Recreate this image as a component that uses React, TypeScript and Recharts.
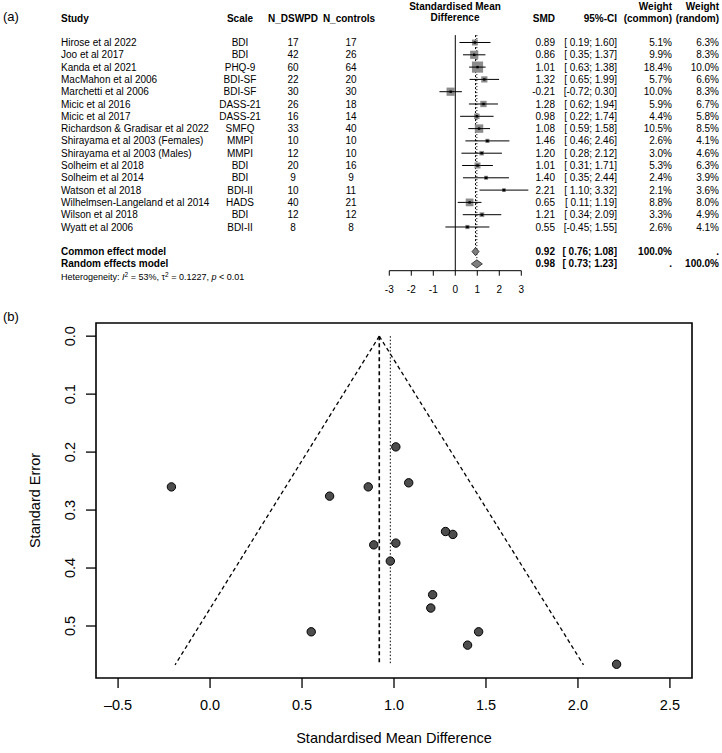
import { ScatterChart, Scatter, XAxis, YAxis, ErrorBar, ReferenceLine, ReferenceArea } from 'recharts';

const studies = [
  'Hirose et al 2022', 'Joo et al 2017', 'Kanda et al 2021', 'MacMahon et al 2006',
  'Marchetti et al 2006', 'Micic et al 2016', 'Micic et al 2017', 'Richardson & Gradisar et al 2022',
  'Shirayama et al 2003 (Females)', 'Shirayama et al 2003 (Males)', 'Solheim et al 2018', 'Solheim et al 2014',
  'Watson et al 2018', 'Wilhelmsen-Langeland et al 2014', 'Wilson et al 2018', 'Wyatt et al 2006',
];
const scales = ['BDI', 'BDI', 'PHQ-9', 'BDI-SF', 'BDI-SF', 'DASS-21', 'DASS-21', 'SMFQ', 'MMPI', 'MMPI', 'BDI', 'BDI', 'BDI-II', 'HADS', 'BDI', 'BDI-II'];
const nDswpd = [17, 42, 60, 22, 30, 26, 16, 33, 10, 12, 20, 9, 10, 40, 12, 8];
const nControls = [17, 26, 64, 20, 30, 18, 14, 40, 10, 10, 16, 9, 11, 21, 12, 8];
const smd = [0.89, 0.86, 1.01, 1.32, -0.21, 1.28, 0.98, 1.08, 1.46, 1.2, 1.01, 1.4, 2.21, 0.65, 1.21, 0.55];
const ciLower = [0.19, 0.35, 0.63, 0.65, -0.72, 0.62, 0.22, 0.59, 0.46, 0.28, 0.31, 0.35, 1.1, 0.11, 0.34, -0.45];
const ciUpper = [1.6, 1.37, 1.38, 1.99, 0.3, 1.94, 1.74, 1.58, 2.46, 2.12, 1.71, 2.44, 3.32, 1.19, 2.09, 1.55];
const weightCommon = [5.1, 9.9, 18.4, 5.7, 10.0, 5.9, 4.4, 10.5, 2.6, 3.0, 5.3, 2.4, 2.1, 8.8, 3.3, 2.6];
const weightRandom = [6.3, 8.3, 10.0, 6.6, 8.3, 6.7, 5.8, 8.5, 4.1, 4.6, 6.3, 3.9, 3.6, 8.0, 4.9, 4.1];
const standardError = [0.36, 0.26, 0.191, 0.342, 0.26, 0.337, 0.388, 0.253, 0.51, 0.469, 0.357, 0.533, 0.566, 0.276, 0.446, 0.51];

// pooled estimates
const commonModel = { smd: 0.92, lower: 0.76, upper: 1.08 };
const randomModel = { smd: 0.98, lower: 0.73, upper: 1.23 };

const forestTicks = [-3, -2, -1, 0, 1, 2, 3];
const funnelXTicks = [-0.5, 0, 0.5, 1, 1.5, 2, 2.5];
const funnelYTicks = [0, 0.1, 0.2, 0.3, 0.4, 0.5];
const funnelMaxSe = 0.567;
const funnelEdges = [-0.19, 2.03];

const FONT = '"Liberation Sans", Arial, Helvetica, sans-serif';

const fmt = (v: number) => v.toFixed(2);
const fmtCi = (lo: number, hi: number) => `[${lo < 0 ? '' : '\u00a0'}${fmt(lo)}; ${fmt(hi)}]`;

const studyRows = studies.map((s, i) => ({
  row: i, study: s, scale: scales[i], n1: nDswpd[i], n2: nControls[i],
  smd: smd[i], lower: ciLower[i], upper: ciUpper[i], wc: weightCommon[i], wr: weightRandom[i],
  err: [smd[i] - ciLower[i], ciUpper[i] - smd[i]],
}));

const summaryRows = [
  { row: 17, label: 'Common effect model', ...commonModel, wc: '100.0%', wr: '.' },
  { row: 18, label: 'Random effects model', ...randomModel, wc: '.', wr: '100.0%' },
];

const diamond = (m: { smd: number; lower: number; upper: number }, row: number) => [
  { smd: m.lower, row },
  { smd: m.smd, row: row - 0.33 },
  { smd: m.upper, row },
  { smd: m.smd, row: row + 0.33 },
];

const funnelPoints = smd.map((v, i) => ({ smd: v, se: standardError[i] }));

const StudyText = ({ cy, payload }: any) => (
  <g fontFamily={FONT} fontSize={10} fill="#000">
    <text x={61} y={cy} dy="0.36em">{payload.study}</text>
    <text x={240} y={cy} dy="0.36em" textAnchor="middle">{payload.scale}</text>
    <text x={293} y={cy} dy="0.36em" textAnchor="middle">{payload.n1}</text>
    <text x={351} y={cy} dy="0.36em" textAnchor="middle">{payload.n2}</text>
    <text x={555} y={cy} dy="0.36em" textAnchor="end">{fmt(payload.smd)}</text>
    <text x={617} y={cy} dy="0.36em" textAnchor="end">{fmtCi(payload.lower, payload.upper)}</text>
    <text x={672} y={cy} dy="0.36em" textAnchor="end">{payload.wc.toFixed(1)}%</text>
    <text x={719} y={cy} dy="0.36em" textAnchor="end">{payload.wr.toFixed(1)}%</text>
  </g>
);

const SummaryText = ({ cy, payload }: any) => (
  <g fontFamily={FONT} fontSize={10} fontWeight="bold" fill="#000">
    <text x={61} y={cy} dy="0.36em">{payload.label}</text>
    <text x={555} y={cy} dy="0.36em" textAnchor="end">{fmt(payload.smd)}</text>
    <text x={617} y={cy} dy="0.36em" textAnchor="end">{fmtCi(payload.lower, payload.upper)}</text>
    <text x={672} y={cy} dy="0.36em" textAnchor="end">{payload.wc}</text>
    <text x={719} y={cy} dy="0.36em" textAnchor="end">{payload.wr}</text>
  </g>
);

const WeightSquare = ({ cx, cy, payload }: any) => {
  const side = 2.6 * Math.sqrt(payload.wc);
  return (
    <g>
      <rect x={cx - side / 2} y={cy - side / 2} width={side} height={side} fill="#8c8c8c" />
      <line x1={cx - side / 2} x2={cx + side / 2} y1={cy} y2={cy} stroke="#000" strokeWidth={1} />
      <rect x={cx - 1.2} y={cy - 1.2} width={2.4} height={2.4} fill="#000" />
    </g>
  );
};

const DiamondShape = (p: any) => (
  <polygon points={p.points.map((q: any) => `${q.x},${q.y}`).join(' ')} fill="#7f7f7f" stroke="#222" strokeWidth={0.8} />
);

const FunnelYTick = ({ x, y, payload }: any) => (
  <text x={x} y={y} transform={`rotate(-90 ${x} ${y})`} textAnchor="middle" fontFamily={FONT} fontSize={14.5} fill="#000">
    {payload.value.toFixed(1)}
  </text>
);

export default function App() {
  return (
    <div style={{ position: 'absolute', left: 0, top: 0, width: 722, height: 753, background: '#fff' }}>
      <div style={{ position: 'absolute', left: 0, top: 0 }}>
        <ScatterChart width={722} height={300} margin={{ top: 30.2, right: 0, bottom: 0, left: 0 }}>
          <XAxis type="number" dataKey="smd" domain={[-20.695, 12.123]} ticks={forestTicks} axisLine={false}
            tickSize={5} tickMargin={10} tickLine={{ stroke: '#000' }}
            tick={{ fill: '#000', fontSize: 10, fontFamily: FONT }} height={29.3} interval={0} />
          <YAxis type="number" dataKey="row" domain={[-1, 18.553]} reversed hide />
          <ReferenceLine segment={[{ x: -3, y: 18.553 }, { x: 3, y: 18.553 }]} stroke="#000" ifOverflow="visible" />
          <ReferenceLine segment={[{ x: 0, y: -0.6 }, { x: 0, y: 18.553 }]} stroke="#000" ifOverflow="visible" />
          <ReferenceLine segment={[{ x: commonModel.smd, y: -0.6 }, { x: commonModel.smd, y: 16.7 }]} stroke="#000" strokeDasharray="2 2" ifOverflow="visible" />
          <ReferenceLine segment={[{ x: randomModel.smd, y: -0.6 }, { x: randomModel.smd, y: 17.7 }]} stroke="#000" strokeDasharray="1 2" ifOverflow="visible" />
          <Scatter data={studyRows} shape={StudyText} isAnimationActive={false} />
          <Scatter data={summaryRows} shape={SummaryText} isAnimationActive={false} />
          <Scatter data={studyRows} shape={WeightSquare} isAnimationActive={false}>
            <ErrorBar dataKey="err" direction="x" width={0} stroke="#000" strokeWidth={1} />
          </Scatter>
          <Scatter data={diamond(commonModel, 17)} shape={() => <g />} line={DiamondShape} isAnimationActive={false} />
          <Scatter data={diamond(randomModel, 18)} shape={() => <g />} line={DiamondShape} isAnimationActive={false} />
        </ScatterChart>
      </div>

      <div style={{ position: 'absolute', left: 0, top: 300 }}>
        <ScatterChart width={722} height={453} margin={{ top: 23, right: 30, bottom: 0, left: 0 }}>
          <XAxis type="number" dataKey="smd" domain={[-0.62, 2.62]} ticks={funnelXTicks} axisLine={false}
            tickSize={10} tickMargin={12} tickLine={{ stroke: '#000', strokeWidth: 1.3 }} interval={0}
            tickFormatter={(v: number) => v.toFixed(1).replace('-', '\u2013')}
            tick={{ fill: '#000', fontSize: 14.5, fontFamily: FONT }} height={75} />
          <YAxis type="number" dataKey="se" domain={[-0.0227, 0.5897]} reversed ticks={funnelYTicks} axisLine={false}
            tickSize={10} tickMargin={10.8} tickLine={{ stroke: '#000', strokeWidth: 1.3 }} interval={0}
            tick={FunnelYTick} width={96} />
          <ReferenceArea x1={-0.62} x2={2.62} y1={-0.0227} y2={0.5897} fill="none" fillOpacity={0} stroke="#000" strokeWidth={1.6} ifOverflow="visible" />
          <ReferenceLine segment={[{ x: commonModel.smd, y: 0 }, { x: funnelEdges[0], y: funnelMaxSe }]} stroke="#000" strokeWidth={1.3} strokeDasharray="4 3" ifOverflow="visible" />
          <ReferenceLine segment={[{ x: commonModel.smd, y: 0 }, { x: funnelEdges[1], y: funnelMaxSe }]} stroke="#000" strokeWidth={1.3} strokeDasharray="4 3" ifOverflow="visible" />
          <ReferenceLine segment={[{ x: commonModel.smd, y: 0 }, { x: commonModel.smd, y: funnelMaxSe }]} stroke="#000" strokeWidth={1.6} strokeDasharray="4 3" ifOverflow="visible" />
          <ReferenceLine segment={[{ x: randomModel.smd, y: 0 }, { x: randomModel.smd, y: funnelMaxSe }]} stroke="#000" strokeWidth={1} strokeDasharray="1.5 2" ifOverflow="visible" />
          <Scatter data={funnelPoints} isAnimationActive={false}
            shape={({ cx, cy }: any) => <circle cx={cx} cy={cy} r={4.2} fill="#4d4d4d" stroke="#000" strokeWidth={1} />} />
        </ScatterChart>
      </div>

      <svg width={722} height={753} style={{ position: 'absolute', left: 0, top: 0, pointerEvents: 'none' }} fontFamily={FONT} fill="#000">
        <text x={3} y={20.5} fontSize={13}>(a)</text>
        <text x={3} y={320.5} fontSize={13}>(b)</text>
        <g fontSize={10} fontWeight="bold">
          <text x={61} y={21.6}>Study</text>
          <text x={240} y={21.6} textAnchor="middle">Scale</text>
          <text x={293} y={21.6} textAnchor="middle">N_DSWPD</text>
          <text x={349} y={21.6} textAnchor="middle">N_controls</text>
          <text x={455} y={9.6} textAnchor="middle">Standardised Mean</text>
          <text x={455} y={21.1} textAnchor="middle">Difference</text>
          <text x={555} y={21.6} textAnchor="end">SMD</text>
          <text x={617} y={21.6} textAnchor="end">95%-CI</text>
          <text x={672} y={9.6} textAnchor="end">Weight</text>
          <text x={672} y={21.6} textAnchor="end">(common)</text>
          <text x={719} y={9.6} textAnchor="end">Weight</text>
          <text x={719} y={21.6} textAnchor="end">(random)</text>
        </g>
        <text x={61} y={280} fontSize={9}>
          Heterogeneity: <tspan fontStyle="italic">I</tspan><tspan fontSize={6.5} dy={-3.5}>2</tspan>
          <tspan dy={3.5}> = 53%, τ</tspan><tspan fontSize={6.5} dy={-3.5}>2</tspan>
          <tspan dy={3.5}> = 0.1227, </tspan><tspan fontStyle="italic">p</tspan><tspan> &lt; 0.01</tspan>
        </text>
        <text x={394} y={743.2} fontSize={14.5} textAnchor="middle">Standardised Mean Difference</text>
        <text x={40} y={500.5} fontSize={14.5} textAnchor="middle" transform="rotate(-90 40 500.5)">Standard Error</text>
      </svg>
    </div>
  );
}
